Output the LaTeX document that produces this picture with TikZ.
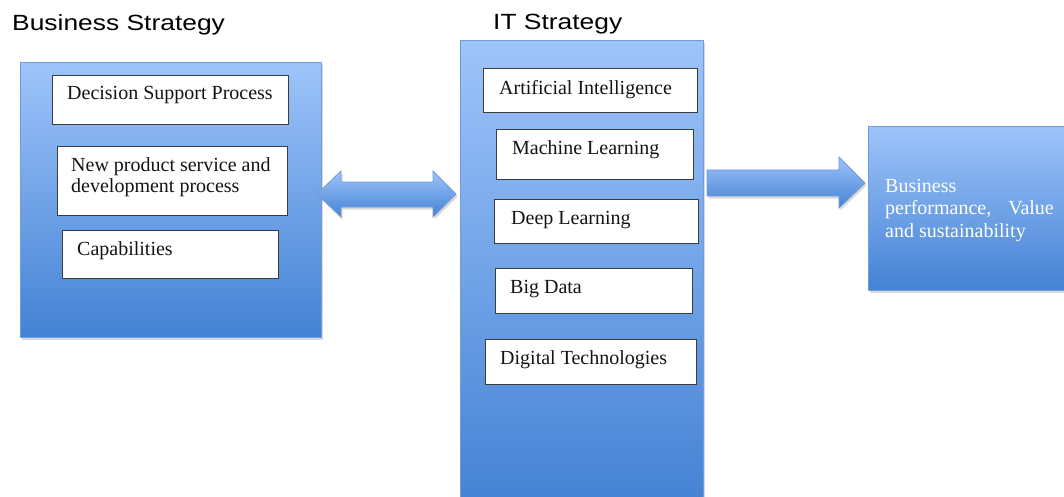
\documentclass[tikz,border=0pt]{standalone}
\usepackage{fontspec}
\setmainfont{Liberation Serif}
\newfontfamily\titlefont{Liberation Sans}[FakeStretch=1.2]
\usetikzlibrary{shadows}
\definecolor{blueTop}{RGB}{158,196,250}
\definecolor{blueBot}{RGB}{68,130,212}
\definecolor{blueEdge}{RGB}{115,155,215}
\definecolor{boxEdge}{RGB}{60,60,60}
\definecolor{txt}{RGB}{20,20,20}
\begin{document}
\begin{tikzpicture}[x=1pt,y=-1pt,
  bigbox/.style={draw=blueEdge, line width=0.8pt, top color=blueTop, bottom color=blueBot,
    drop shadow={opacity=0.3,shadow xshift=1.5pt,shadow yshift=-2.5pt}, anchor=north west, inner sep=0pt},
  itembox/.style={draw=boxEdge, line width=1pt, fill=white, anchor=north west, inner sep=0pt},
  itemtext/.style={text=txt, font=\fontsize{20}{21}\selectfont, inner sep=0pt, anchor=base west, align=left},
  outtext/.style={text=white, font=\fontsize{20}{22.5}\selectfont, inner sep=0pt, anchor=base west, align=left},
  titletext/.style={font=\titlefont\fontsize{22}{26}\selectfont, inner sep=0pt, anchor=base west, text=black},
  blockarrow/.style={draw=blueEdge, line width=0.8pt, top color=blueTop, bottom color=blueBot,
    drop shadow={opacity=0.3,shadow xshift=1.5pt,shadow yshift=-2.5pt}}
]
\useasboundingbox (0,0) rectangle (1064,497);

% titles
\node[titletext] (bstitle) at (12,31) {Business Strategy};
\node[titletext] (ittitle) at (493,30) {IT Strategy};

% big boxes
\node[bigbox, minimum width=301pt, minimum height=275pt] (bs) at (20,62) {};
\node[bigbox, minimum width=243pt, minimum height=465pt] (it) at (460,40) {};
\node[bigbox, minimum width=210pt, minimum height=164pt] (out) at (868,126) {};

% business strategy items
\node[itembox, minimum width=236pt, minimum height=49pt] (dsp) at (52,75) {};
\node[itemtext] (dspt) at (67,100) {Decision Support Process};
\node[itembox, minimum width=230pt, minimum height=69pt] (nps) at (57,146) {};
\node[itemtext] (npst) at (71,193) {New product service and\\development process};
\node[itembox, minimum width=216pt, minimum height=48pt] (cap) at (62,230) {};
\node[itemtext] (capt) at (77,255) {Capabilities};

% IT strategy items
\node[itembox, minimum width=214pt, minimum height=44pt] (ai) at (483,68) {};
\node[itemtext] (ait) at (499,95) {Artificial Intelligence};
\node[itembox, minimum width=197pt, minimum height=50pt] (ml) at (496,129) {};
\node[itemtext] (mlt) at (512,155) {Machine Learning};
\node[itembox, minimum width=204pt, minimum height=44pt] (dl) at (494,199) {};
\node[itemtext] (dlt) at (511,224) {Deep Learning};
\node[itembox, minimum width=197pt, minimum height=45pt] (bd) at (495,268) {};
\node[itemtext] (bdt) at (510,293) {Big Data};
\node[itembox, minimum width=211pt, minimum height=45pt] (dt) at (485,339) {};
\node[itemtext] (dtt) at (500,364) {Digital Technologies};

% outcome text
\node[outtext] (outt) at (885,237) {Business\\performance,\hspace{12pt} Value\\and sustainability};

% block arrows
\draw[blockarrow] (317,194) -- (341,171) -- (341,182) -- (433,182) -- (433,171) -- (456,194)
  -- (433,217) -- (433,207) -- (341,207) -- (341,217) -- cycle;
\draw[blockarrow] (707,170) -- (839,170) -- (839,157) -- (865,183) -- (839,208) -- (839,196)
  -- (707,196) -- cycle;
\end{tikzpicture}
\end{document}
